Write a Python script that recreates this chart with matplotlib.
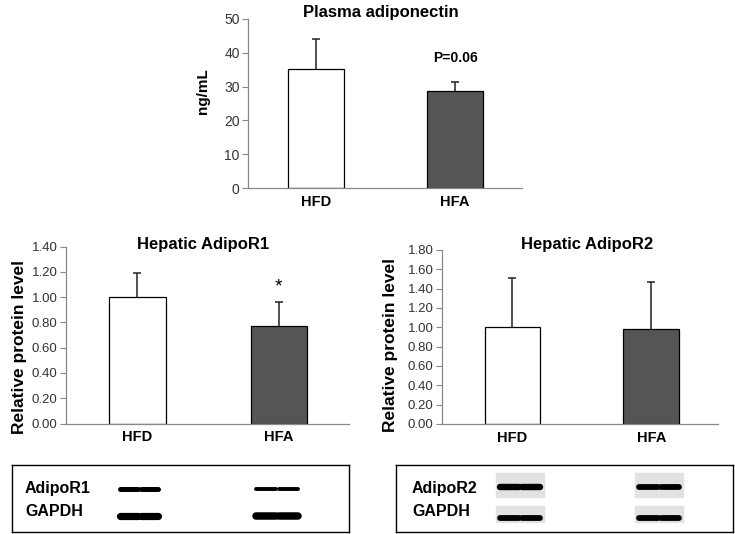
import matplotlib
matplotlib.use("Agg")
import matplotlib.pyplot as plt
from matplotlib.patches import Rectangle

plt.rcParams['font.family'] = ['Liberation Sans', 'DejaVu Sans']

# data
groups = ['HFD', 'HFA']
adipo_mean = [35.2, 28.8]
adipo_err = [9.0, 2.6]
r1_mean = [1.00, 0.77]
r1_err = [0.19, 0.19]
r2_mean = [1.00, 0.98]
r2_err = [0.51, 0.49]
r1_ticks = [0.0, 0.2, 0.4, 0.6, 0.8, 1.0, 1.2, 1.4]
r2_ticks = [0.0, 0.2, 0.4, 0.6, 0.8, 1.0, 1.2, 1.4, 1.6, 1.8]
adipo_ticks = [0, 10, 20, 30, 40, 50]
bar_colors = ['white', '#555555']

W, H = 735, 534
fig = plt.figure(figsize=(W / 100, H / 100), dpi=100)


def px_axes(x0, y0, x1, y1):
    return fig.add_axes([x0 / W, 1 - y1 / H, (x1 - x0) / W, (y1 - y0) / H])


def fig_text(x, y, s, **kw):
    fig.text(x / W, 1 - y / H, s, ha='center', va='center', **kw)


def bar_panel(ax, means, errs, ticks, fmt, xlim, width, tick_fs):
    x = list(range(len(means)))
    ax.bar(x, means, width=width, color=bar_colors, edgecolor='black',
           linewidth=0.9, zorder=2)
    # upper-only error bars
    tops = [m + e for m, e in zip(means, errs)]
    ax.vlines(x, means, tops, color='#222222', linewidth=1.1, zorder=1)
    ax.hlines(tops, [i - 0.028 for i in x], [i + 0.028 for i in x],
              color='#222222', linewidth=1.1, zorder=1)
    ax.set_xlim(*xlim)
    ax.set_ylim(ticks[0], ticks[-1])
    ax.set_yticks(ticks)
    ax.set_yticklabels([fmt.format(t) for t in ticks], fontsize=tick_fs,
                       color='#333333')
    ax.set_xticks(x)
    ax.set_xticklabels(groups, fontsize=10.5, fontweight='bold')
    ax.tick_params(axis='x', length=0, pad=5)
    ax.tick_params(axis='y', length=4, color='#888888', width=0.8, pad=2)
    for s in ['top', 'right']:
        ax.spines[s].set_visible(False)
    for s in ['left', 'bottom']:
        ax.spines[s].set_color('#888888')
        ax.spines[s].set_linewidth(0.9)


# top panel
ax1 = px_axes(248, 19, 522, 188)
bar_panel(ax1, adipo_mean, adipo_err, adipo_ticks, '{:.0f}',
          (-0.49, 1.48), 0.40, 10)
fig_text(381, 13, 'Plasma adiponectin', fontsize=12, fontweight='bold')
fig_text(203, 91, 'ng/mL', fontsize=11, fontweight='bold', rotation=90)
ax1.text(1, 38.5, 'P=0.06', ha='center', va='center', fontsize=10,
         fontweight='bold')

# bottom left
ax2 = px_axes(66, 246.5, 349, 423.5)
bar_panel(ax2, r1_mean, r1_err, r1_ticks, '{:.2f}',
          (-0.505, 1.495), 0.40, 9.5)
fig_text(203, 245, 'Hepatic AdipoR1', fontsize=12, fontweight='bold')
fig_text(20, 347, 'Relative protein level', fontsize=12.5, fontweight='bold',
         rotation=90)
ax2.text(1, r1_mean[1] + r1_err[1] + 0.05, '*', ha='center', va='bottom',
         fontsize=14)

# bottom right
ax3 = px_axes(442, 250, 718, 424)
bar_panel(ax3, r2_mean, r2_err, r2_ticks, '{:.2f}',
          (-0.506, 1.48), 0.40, 9.5)
fig_text(587, 245, 'Hepatic AdipoR2', fontsize=12, fontweight='bold')
fig_text(390, 345, 'Relative protein level', fontsize=12.5, fontweight='bold',
         rotation=90)

# western blot boxes
blot_rows = ['AdipoR1', 'GAPDH']
blot_rows2 = ['AdipoR2', 'GAPDH']
r1_band_width = [[3.6, 2.8], [5.2, 5.4]]   # line widths HFD / HFA
r2_band_width = [[4.6, 4.2], [4.2, 4.2]]


def blot_box(x0, x1, rows, bands, lanes, label_x, label_y, band_y, shade=None):
    ax = px_axes(x0, 465, x1, 532)
    ax.set_xlim(0, x1 - x0)
    ax.set_ylim(67, 0)
    ax.set_xticks([])
    ax.set_yticks([])
    for s in ax.spines.values():
        s.set_linewidth(1.0)
        s.set_color('black')
    for r, name in enumerate(rows):
        ax.text(label_x, label_y[r], name, fontsize=11.5, fontweight='bold',
                va='center', ha='left')
        for g, (lx0, lx1) in enumerate(lanes):
            mid = (lx0 + lx1) / 2
            if shade is not None:
                sy0, sy1 = shade[r]
                ax.add_patch(Rectangle((lx0 - 2, sy0), lx1 - lx0 + 4, sy1 - sy0,
                                       color='#e2e2e2', zorder=0))
            yy = band_y[r]
            lw = bands[r][g]
            ax.plot([lx0 + 2, mid - 1.5], [yy, yy], color='black', lw=lw,
                    solid_capstyle='round')
            ax.plot([mid + 1.5, lx1 - 2], [yy, yy], color='black', lw=lw,
                    solid_capstyle='round')


blot_box(12, 349, blot_rows, r1_band_width, [(106, 148), (242, 288)],
         13, [24, 47], [24, 51])
blot_box(396, 733, blot_rows2, r2_band_width, [(102, 146), (241, 285)],
         16, [23, 46], [22, 53], shade=[(8, 32), (41, 57)])

fig.savefig('out.png', dpi=100)
